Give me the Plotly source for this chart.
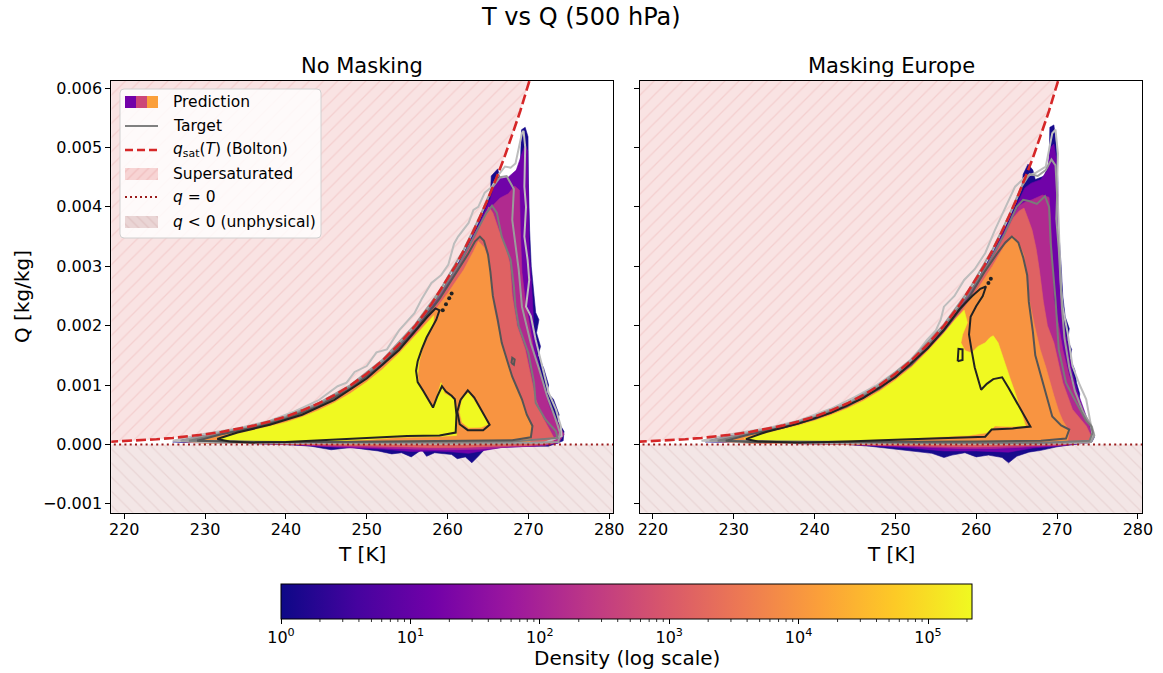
import math
import plotly.graph_objects as go

W, H = 1163, 673
FONT = "DejaVu Sans"

# ---------------------------------------------------------------- axes
T_RANGE = [218.4, 280.5]
Q_RANGE = [-0.00115, 0.00612]
T_TICKS = [220, 230, 240, 250, 260, 270, 280]
Q_TICKS = [-0.001, 0.0, 0.001, 0.002, 0.003, 0.004, 0.005, 0.006]
Q_TICK_TEXT = ["\u22120.001", "0.000", "0.001", "0.002", "0.003", "0.004", "0.005", "0.006"]

# saturation specific humidity at 500 hPa (Bolton), tabulated
QSAT_T = [218, 220, 222, 224, 226, 228, 230, 232, 234, 236, 238, 240, 242, 244, 246,
          248, 250, 252, 254, 256, 258, 260, 261, 262, 263, 264, 265, 266, 267, 268,
          269, 270, 270.5]
QSAT_Q = [0.0000431, 0.0000548, 0.0000692, 0.0000872, 0.0001092, 0.0001362, 0.0001691,
          0.0002092, 0.0002576, 0.0003160, 0.0003859, 0.0004697, 0.0005696, 0.0006883,
          0.0008287, 0.0009946, 0.0011899, 0.0014185, 0.0016862, 0.0019986, 0.0023611,
          0.0027815, 0.0030115, 0.0032679, 0.0035330, 0.0038293, 0.0041338, 0.0044753,
          0.0048244, 0.0052180, 0.0056161, 0.0060687, 0.0062899]

# ---------------------------------------------------------------- density
# log10 of the colour-bar maximum
CBAR_LOG_MAX = 5.34
CBAR_DECADES = [0, 1, 2, 3, 4, 5]
CBAR_TICK_TEXT = ["10<sup>0</sup>", "10<sup>1</sup>", "10<sup>2</sup>",
                  "10<sup>3</sup>", "10<sup>4</sup>", "10<sup>5</sup>"]

# prediction density regions (T [K], q [kg/kg]), lowest level first -- No Masking
NM_NAVY = [
    (226.0, 0.00004), (228.0, 0.00012), (232.0, 0.00019), (236.0, 0.00030), (240.0, 0.00045),
    (244.0, 0.00066), (248.0, 0.00096), (252.0, 0.00138), (256.0, 0.00196), (258.0, 0.00232),
    (260.0, 0.00274), (262.0, 0.00322), (264.0, 0.00378), (265.3, 0.00420), (265.4, 0.00452),
    (266.2, 0.00464), (266.6, 0.00442), (267.5, 0.00440), (268.3, 0.00456), (269.0, 0.00472),
    (269.15, 0.00530), (269.6, 0.00534), (269.95, 0.00518), (270.0, 0.00440), (270.15, 0.00360),
    (270.35, 0.00300), (270.7, 0.00250), (270.9, 0.00222), (271.3, 0.00210), (271.0, 0.00188),
    (271.5, 0.00165), (271.2, 0.00150), (271.9, 0.00128), (272.5, 0.00100), (272.3, 0.00088),
    (273.1, 0.00076), (273.8, 0.00050), (273.6, 0.00040), (274.4, 0.00022), (274.3, 0.00006),
    (272.5, -0.00003), (270.1, -0.00003), (266.7, -0.00005), (264.6, -0.00008), (263.8, -0.00020),
    (263.0, -0.00031), (262.2, -0.00021), (261.2, -0.00024), (260.5, -0.00017), (258.4, -0.00014),
    (257.4, -0.00020), (256.8, -0.00009), (255.5, -0.00021), (254.3, -0.00014), (253.1, -0.00016),
    (251.4, -0.00011), (249.6, -0.00008), (248.1, -0.00005), (245.6, -0.00009), (243.1, -0.00003),
    (241.0, -0.00001), (235.0, 0.00002), (228.0, 0.00003),
]
NM_PURPLE = [
    (226.5, 0.00005), (228.0, 0.00011), (232.0, 0.00018), (236.0, 0.00029), (240.0, 0.00044),
    (244.0, 0.00065), (248.0, 0.00095), (252.0, 0.00137), (256.0, 0.00194), (258.0, 0.00230),
    (260.0, 0.00271), (262.0, 0.00319), (264.0, 0.00374), (265.3, 0.00414), (265.9, 0.00440),
    (266.6, 0.00448), (267.5, 0.00450), (268.5, 0.00462), (269.2, 0.00490), (269.6, 0.00505),
    (269.9, 0.00494), (270.0, 0.00420), (270.1, 0.00330), (270.5, 0.00244), (270.7, 0.00188),
    (271.3, 0.00132), (272.5, 0.00076), (273.6, 0.00037), (273.9, 0.00013), (273.7, 0.00002),
    (270.8, -0.00003), (266.7, -0.00005), (264.2, -0.00011), (262.6, -0.00015), (260.0, -0.00012),
    (258.4, -0.00011), (255.5, -0.00012), (252.2, -0.00008), (246.5, -0.00005), (243.5, -0.00003),
    (240.0, 0.0), (230.0, 0.00003),
]
NM_MAGENTA = [
    (227.0, 0.00005), (228.0, 0.00011), (232.0, 0.00018), (236.0, 0.00029), (240.0, 0.00044),
    (244.0, 0.00065), (248.0, 0.00095), (252.0, 0.00136), (256.0, 0.00193), (258.0, 0.00228),
    (260.0, 0.00269), (262.0, 0.00316), (264.0, 0.00368), (264.9, 0.00392), (265.5, 0.00401),
    (266.5, 0.00415), (267.5, 0.00422), (268.3, 0.00435), (268.9, 0.00428), (269.0, 0.00360),
    (269.2, 0.00290), (269.6, 0.00244), (270.3, 0.00188), (270.8, 0.00148), (271.7, 0.00104),
    (272.7, 0.00059), (273.9, 0.00030), (274.4, 0.00017), (273.8, 0.00004), (272.0, -0.00002),
    (268.0, -0.00004), (264.0, -0.00008), (260.0, -0.00009), (256.0, -0.00008), (250.0, -0.00005),
    (245.0, -0.00003), (241.0, 0.0), (232.0, 0.00003),
]
NM_CORAL = [
    (227.0, 0.00005), (228.0, 0.00010), (232.0, 0.00017), (236.0, 0.00028), (240.0, 0.00043),
    (244.0, 0.00064), (248.0, 0.00094), (252.0, 0.00135), (256.0, 0.00191), (258.0, 0.00226),
    (260.0, 0.00266), (262.0, 0.00312), (263.5, 0.00352), (264.6, 0.00385), (265.1, 0.00400),
    (265.6, 0.00390), (266.3, 0.00362), (267.2, 0.00332), (267.7, 0.00305), (268.0, 0.00250),
    (268.6, 0.00200), (269.6, 0.00160), (270.3, 0.00112), (270.9, 0.00076), (271.8, 0.00045),
    (272.6, 0.00025), (273.2, 0.00010), (273.0, 0.00002), (270.0, -0.00002), (266.0, -0.00003),
    (262.0, -0.00005), (258.0, -0.00005), (254.0, -0.00004), (248.0, -0.00002), (242.0, 0.0),
    (235.0, 0.00002), (229.0, 0.00003),
]
NM_ORANGE = [
    (227.5, 0.00005), (228.0, 0.00009), (232.0, 0.00016), (236.0, 0.00027), (240.0, 0.00041),
    (244.0, 0.00062), (248.0, 0.00091), (252.0, 0.00131), (256.0, 0.00185), (258.0, 0.00218),
    (260.0, 0.00254), (262.0, 0.00294), (263.2, 0.00325), (263.8, 0.00342), (264.5, 0.00332),
    (265.1, 0.00311), (265.4, 0.00270), (265.7, 0.00232), (266.2, 0.00200), (266.7, 0.00171),
    (267.4, 0.00140), (268.0, 0.00114), (268.6, 0.00095), (269.2, 0.00076), (269.8, 0.00052),
    (270.4, 0.00030), (270.2, 0.00004), (268.0, 0.00001), (260.0, 0.0), (250.0, 0.0),
    (240.0, 0.00001), (230.0, 0.00002),
]
NM_ORANGE_SPOT = [(267.7, 0.00136), (268.1, 0.00128), (268.4, 0.00138), (268.1, 0.00150), (267.8, 0.00147)]
NM_YELLOW = [
    (231.5, 0.00010), (234.0, 0.00018), (236.0, 0.00024), (238.0, 0.00030), (240.0, 0.00037),
    (242.0, 0.00046), (244.0, 0.00057), (246.0, 0.00070), (248.0, 0.00086), (250.0, 0.00105),
    (252.0, 0.00127), (254.0, 0.00153), (256.0, 0.00183), (257.5, 0.00205), (258.3, 0.00217),
    (258.2, 0.00200), (257.5, 0.00182), (256.9, 0.00162), (256.5, 0.00140), (256.3, 0.00116),
    (256.6, 0.00096), (257.2, 0.00081), (257.8, 0.00068), (258.3, 0.00064), (258.8, 0.00085),
    (259.2, 0.00104), (259.6, 0.00086), (260.3, 0.00080), (260.9, 0.00076), (261.1, 0.00040),
    (261.1, 0.00015), (258.0, 0.00013), (254.0, 0.00012), (250.0, 0.00008), (244.0, 0.00005),
    (238.0, 0.00004), (234.0, 0.00005), (232.5, 0.00007),
]
NM_YELLOW_ISLAND = [
    (262.0, 0.00081), (262.6, 0.00087), (263.2, 0.00076), (264.2, 0.00054), (265.0, 0.00034),
    (264.2, 0.00029), (262.6, 0.00028), (261.8, 0.00037), (261.5, 0.00054), (261.7, 0.00071),
]

# target density contours, lowest level first -- No Masking
NM_T1 = [
    (226.0, 0.00006), (230.0, 0.00018), (234.0, 0.00027), (238.0, 0.00040), (241.0, 0.00055),
    (244.0, 0.00074), (246.4, 0.00098), (247.5, 0.00104), (248.5, 0.00122), (250.0, 0.00132),
    (251.2, 0.00155), (252.5, 0.00160), (254.0, 0.00192), (255.9, 0.00221), (256.8, 0.00245),
    (258.0, 0.00272), (259.2, 0.00285), (260.1, 0.00303), (260.8, 0.00338), (261.3, 0.00350),
    (262.6, 0.00373), (263.2, 0.00395), (263.8, 0.00400), (264.6, 0.00424), (265.5, 0.00434),
    (266.3, 0.00454), (267.1, 0.00468), (267.8, 0.00466), (268.4, 0.00473), (268.8, 0.00501),
    (269.2, 0.00524), (269.4, 0.00528), (269.6, 0.00501), (269.5, 0.00434), (269.7, 0.00400),
    (269.5, 0.00350), (269.9, 0.00311), (270.1, 0.00277), (269.7, 0.00232), (270.3, 0.00216),
    (270.9, 0.00176), (271.7, 0.00132), (272.5, 0.00087), (273.4, 0.00059), (274.0, 0.00031),
    (274.1, 0.00014), (272.0, 0.00003), (260.0, 0.00001), (245.0, 0.00002), (232.0, 0.00003),
]
NM_T2 = [
    (227.0, 0.00006), (232.0, 0.00020), (236.0, 0.00031), (240.0, 0.00047), (244.0, 0.00069),
    (248.0, 0.00100), (252.0, 0.00143), (256.0, 0.00202), (259.0, 0.00258), (262.0, 0.00328),
    (264.0, 0.00384), (265.5, 0.00432), (266.5, 0.00450), (267.3, 0.00452), (268.2, 0.00430),
    (268.0, 0.00378), (268.4, 0.00333), (268.8, 0.00294), (269.2, 0.00232), (269.8, 0.00200),
    (270.3, 0.00170), (271.3, 0.00128), (272.3, 0.00082), (273.3, 0.00045), (273.9, 0.00020),
    (273.7, 0.00004), (268.0, 0.00002), (255.0, 0.00002), (240.0, 0.00003),
]
NM_T3 = [
    (228.0, 0.00006), (232.0, 0.00018), (236.0, 0.00029), (240.0, 0.00045), (244.0, 0.00066),
    (248.0, 0.00097), (252.0, 0.00139), (256.0, 0.00197), (259.0, 0.00252), (261.5, 0.00305),
    (263.5, 0.00355), (264.8, 0.00390), (265.5, 0.00402), (266.1, 0.00390), (266.7, 0.00350),
    (267.8, 0.00311), (268.2, 0.00266), (268.4, 0.00232), (268.8, 0.00199), (270.0, 0.00154),
    (270.7, 0.00104), (270.9, 0.00070), (272.1, 0.00042), (273.4, 0.00022), (273.6, 0.00011),
    (268.0, 0.00005), (255.0, 0.00004), (240.0, 0.00004),
]
NM_T4 = [
    (229.0, 0.00006), (232.0, 0.00017), (236.0, 0.00028), (240.0, 0.00043), (244.0, 0.00064),
    (248.0, 0.00094), (252.0, 0.00135), (256.0, 0.00192), (259.0, 0.00245), (261.0, 0.00288),
    (262.5, 0.00320), (263.4, 0.00342), (264.0, 0.00350), (264.5, 0.00343), (265.0, 0.00320),
    (265.3, 0.00290), (265.6, 0.00250), (266.2, 0.00210), (266.7, 0.00171), (267.4, 0.00140),
    (268.0, 0.00114), (268.6, 0.00095), (269.2, 0.00076), (269.8, 0.00050), (270.5, 0.00031),
    (270.3, 0.00012), (268.0, 0.00007), (262.0, 0.00006), (255.0, 0.00005), (245.0, 0.00004),
    (235.0, 0.00004),
]
NM_T4_SPOT = [(267.9, 0.00137), (268.2, 0.00134), (268.3, 0.00143), (268.0, 0.00146)]
NM_T5 = [
    (231.5, 0.00009), (234.0, 0.00020), (238.0, 0.00033), (242.0, 0.00050), (246.0, 0.00075),
    (250.0, 0.00111), (254.0, 0.00159), (256.0, 0.00191), (257.5, 0.00215), (258.5, 0.00229),
    (259.0, 0.00226), (258.6, 0.00210), (258.0, 0.00195), (257.4, 0.00180), (256.8, 0.00160),
    (256.3, 0.00140), (256.1, 0.00124), (256.3, 0.00105), (257.0, 0.00090), (257.6, 0.00075),
    (258.2, 0.00062), (258.7, 0.00080), (259.3, 0.00098), (259.8, 0.00089), (260.5, 0.00082),
    (260.9, 0.00076), (261.1, 0.00050), (261.0, 0.00020), (259.0, 0.00015), (255.0, 0.00014),
    (250.0, 0.00011), (245.0, 0.00007), (240.0, 0.00004), (236.0, 0.00003), (233.0, 0.00005),
]
NM_T5_ISLAND = [
    (261.6, 0.00075), (262.5, 0.00091), (263.3, 0.00079), (264.3, 0.00056), (265.2, 0.00033),
    (264.4, 0.00024), (262.5, 0.00024), (261.5, 0.00034), (261.2, 0.00055),
]
# tiny isolated target cells along the saturation curve
NM_T5_SPECKS = [(259.4, 0.00226), (259.8, 0.00236), (260.2, 0.00246), (260.5, 0.00254)]

# prediction density regions -- Masking Europe
MK_NAVY = [
    (226.5, 0.00004), (228.0, 0.00012), (232.0, 0.00019), (236.0, 0.00030), (240.0, 0.00045),
    (244.0, 0.00066), (248.0, 0.00096), (252.0, 0.00138), (256.0, 0.00196), (258.0, 0.00232),
    (260.0, 0.00274), (262.0, 0.00322), (264.0, 0.00378), (265.6, 0.00428), (265.8, 0.00455),
    (266.4, 0.00472), (267.0, 0.00462), (267.3, 0.00446), (268.4, 0.00452), (269.0, 0.00472),
    (269.1, 0.00534), (269.6, 0.00538), (269.9, 0.00505), (270.1, 0.00440), (270.0, 0.00380),
    (270.3, 0.00340), (270.5, 0.00300), (270.7, 0.00250), (271.0, 0.00215), (271.5, 0.00195),
    (271.3, 0.00175), (271.8, 0.00160), (271.6, 0.00145), (272.2, 0.00125), (272.4, 0.00104),
    (272.8, 0.00085), (272.7, 0.00072), (273.1, 0.00059), (273.6, 0.00042), (274.2, 0.00026),
    (274.6, 0.00012), (274.3, 0.00004), (270.0, -0.00004), (268.0, -0.00010), (266.5, -0.00013),
    (265.0, -0.00020), (264.0, -0.00031), (263.2, -0.00022), (261.5, -0.00018), (260.0, -0.00021),
    (258.6, -0.00014), (257.0, -0.00018), (256.0, -0.00022), (254.5, -0.00015), (252.5, -0.00012),
    (250.5, -0.00008), (248.5, -0.00006), (246.8, -0.00003), (244.0, 0.0), (235.0, 0.00002),
    (228.0, 0.00003),
]
MK_PURPLE = [
    (227.0, 0.00005), (228.0, 0.00011), (232.0, 0.00018), (236.0, 0.00029), (240.0, 0.00044),
    (244.0, 0.00065), (248.0, 0.00095), (252.0, 0.00137), (256.0, 0.00194), (258.0, 0.00230),
    (260.0, 0.00271), (262.0, 0.00319), (264.0, 0.00374), (265.6, 0.00420), (266.0, 0.00432),
    (266.8, 0.00440), (268.0, 0.00446), (268.8, 0.00462), (269.2, 0.00500), (269.6, 0.00506),
    (269.9, 0.00482), (270.1, 0.00420), (270.2, 0.00330), (270.5, 0.00244), (270.9, 0.00199),
    (271.4, 0.00160), (271.9, 0.00120), (272.5, 0.00090), (273.2, 0.00064), (273.8, 0.00040),
    (274.2, 0.00020), (274.0, 0.00003), (270.0, -0.00003), (267.0, -0.00006), (264.0, -0.00013),
    (260.0, -0.00011), (256.0, -0.00011), (252.0, -0.00006), (248.0, -0.00003), (244.0, 0.0),
    (232.0, 0.00003),
]
MK_MAGENTA = [
    (227.5, 0.00005), (228.0, 0.00011), (232.0, 0.00018), (236.0, 0.00029), (240.0, 0.00044),
    (244.0, 0.00065), (248.0, 0.00095), (252.0, 0.00136), (256.0, 0.00193), (258.0, 0.00228),
    (260.0, 0.00269), (262.0, 0.00316), (264.0, 0.00369), (265.3, 0.00402), (266.0, 0.00408),
    (266.9, 0.00412), (268.2, 0.00420), (269.0, 0.00416), (269.2, 0.00378), (269.4, 0.00294),
    (269.6, 0.00244), (270.2, 0.00200), (270.7, 0.00160), (271.5, 0.00115), (272.8, 0.00070),
    (274.0, 0.00031), (274.3, 0.00012), (274.0, 0.00003), (270.0, -0.00002), (266.0, -0.00005),
    (262.0, -0.00007), (258.0, -0.00007), (254.0, -0.00005), (250.0, -0.00003), (245.0, 0.0),
    (232.0, 0.00003),
]
MK_CORAL = [
    (228.0, 0.00005), (230.0, 0.00013), (232.0, 0.00017), (236.0, 0.00028), (240.0, 0.00043),
    (244.0, 0.00064), (248.0, 0.00094), (252.0, 0.00135), (256.0, 0.00191), (258.0, 0.00226),
    (260.0, 0.00266), (262.0, 0.00312), (263.5, 0.00352), (264.6, 0.00382), (265.3, 0.00393),
    (265.9, 0.00398), (266.4, 0.00380), (266.9, 0.00361), (267.4, 0.00330), (267.8, 0.00294),
    (268.3, 0.00240), (268.8, 0.00200), (269.6, 0.00171), (270.7, 0.00104), (271.9, 0.00059),
    (273.6, 0.00031), (274.2, 0.00014), (274.0, 0.00004), (270.0, -0.00001), (265.0, -0.00003),
    (260.0, -0.00004), (255.0, -0.00003), (250.0, -0.00002), (245.0, 0.0), (235.0, 0.00002),
    (229.0, 0.00004),
]
MK_ORANGE = [
    (228.0, 0.00005), (230.0, 0.00012), (232.0, 0.00016), (236.0, 0.00027), (240.0, 0.00041),
    (244.0, 0.00062), (248.0, 0.00091), (252.0, 0.00131), (256.0, 0.00186), (258.0, 0.00220),
    (260.0, 0.00258), (262.0, 0.00300), (263.5, 0.00335), (264.6, 0.00350), (265.3, 0.00337),
    (265.9, 0.00318), (266.2, 0.00280), (266.6, 0.00240), (267.2, 0.00200), (267.9, 0.00160),
    (268.6, 0.00130), (269.2, 0.00100), (269.6, 0.00082), (270.2, 0.00056), (270.7, 0.00040),
    (271.5, 0.00022), (271.3, 0.00006), (268.0, 0.00002), (260.0, 0.0), (250.0, 0.0),
    (240.0, 0.00001), (232.0, 0.00002),
]
MK_YELLOW = [
    (231.3, 0.00010), (234.0, 0.00019), (236.0, 0.00025), (238.0, 0.00032), (240.0, 0.00040),
    (242.0, 0.00049), (244.0, 0.00060), (246.0, 0.00073), (248.0, 0.00089), (250.0, 0.00108),
    (252.0, 0.00130), (254.0, 0.00157), (256.0, 0.00187), (257.5, 0.00212), (258.5, 0.00226),
    (258.9, 0.00205), (258.3, 0.00185), (258.1, 0.00171), (258.6, 0.00158), (259.4, 0.00154),
    (260.2, 0.00165), (261.1, 0.00171), (261.7, 0.00180), (262.1, 0.00183), (262.7, 0.00171),
    (263.2, 0.00150), (263.6, 0.00132), (264.2, 0.00110), (264.8, 0.00087), (265.2, 0.00070),
    (265.6, 0.00053), (266.1, 0.00031), (264.0, 0.00030), (262.3, 0.00031), (261.5, 0.00020),
    (259.0, 0.00015), (257.3, 0.00014), (252.0, 0.00010), (246.0, 0.00007), (240.0, 0.00005),
    (235.0, 0.00005), (232.5, 0.00007),
]

# target density contours -- Masking Europe
MK_T1 = [
    (226.0, 0.00006), (230.0, 0.00018), (234.0, 0.00027), (238.0, 0.00040), (242.0, 0.00060),
    (245.0, 0.00080), (247.7, 0.00100), (250.0, 0.00122), (251.9, 0.00143), (253.0, 0.00160),
    (253.9, 0.00176), (255.0, 0.00192), (255.6, 0.00210), (256.0, 0.00232), (257.3, 0.00250),
    (258.5, 0.00277), (259.8, 0.00295), (261.1, 0.00322), (262.3, 0.00361), (263.6, 0.00400),
    (264.8, 0.00434), (266.1, 0.00451), (267.3, 0.00457), (268.6, 0.00468), (269.0, 0.00496),
    (269.4, 0.00524), (269.8, 0.00530), (270.1, 0.00490), (270.0, 0.00440), (270.1, 0.00406),
    (270.3, 0.00322), (270.5, 0.00260), (270.7, 0.00230), (271.3, 0.00188), (271.9, 0.00132),
    (272.8, 0.00100), (273.6, 0.00076), (274.0, 0.00050), (274.2, 0.00031), (274.4, 0.00015),
    (274.0, 0.00003), (268.0, 0.00001), (255.0, 0.00001), (240.0, 0.00002),
]
MK_T2 = [
    (227.0, 0.00006), (232.0, 0.00020), (236.0, 0.00031), (240.0, 0.00047), (244.0, 0.00069),
    (248.0, 0.00100), (252.0, 0.00143), (256.0, 0.00202), (259.0, 0.00258), (262.0, 0.00328),
    (264.0, 0.00384), (265.6, 0.00434), (266.6, 0.00455), (267.6, 0.00452), (268.6, 0.00462),
    (269.3, 0.00480), (269.8, 0.00470), (270.0, 0.00420), (269.9, 0.00380), (270.2, 0.00330),
    (270.4, 0.00280), (270.6, 0.00230), (270.9, 0.00180), (271.5, 0.00130), (272.2, 0.00090),
    (273.2, 0.00055), (274.3, 0.00030), (274.6, 0.00015), (274.2, 0.00004), (268.0, 0.00002),
    (255.0, 0.00002), (240.0, 0.00003),
]
MK_T3 = [
    (228.0, 0.00006), (232.0, 0.00018), (236.0, 0.00029), (240.0, 0.00045), (244.0, 0.00066),
    (248.0, 0.00097), (252.0, 0.00139), (256.0, 0.00197), (259.0, 0.00252), (261.5, 0.00305),
    (263.5, 0.00355), (265.0, 0.00400), (265.8, 0.00412), (266.5, 0.00410), (267.5, 0.00405),
    (268.5, 0.00418), (269.0, 0.00400), (269.2, 0.00340), (269.5, 0.00290), (269.8, 0.00244),
    (270.2, 0.00160), (271.1, 0.00104), (272.0, 0.00080), (272.8, 0.00059), (273.6, 0.00040),
    (274.2, 0.00031), (274.4, 0.00020), (274.0, 0.00006), (268.0, 0.00003), (255.0, 0.00003),
    (240.0, 0.00004),
]
MK_T4 = [
    (229.0, 0.00006), (232.0, 0.00017), (236.0, 0.00028), (240.0, 0.00043), (244.0, 0.00064),
    (248.0, 0.00094), (252.0, 0.00135), (256.0, 0.00192), (259.0, 0.00245), (261.0, 0.00290),
    (262.5, 0.00320), (263.6, 0.00340), (264.4, 0.00350), (265.2, 0.00340), (265.8, 0.00315),
    (266.3, 0.00285), (266.5, 0.00240), (267.0, 0.00190), (267.3, 0.00150), (268.2, 0.00104),
    (268.8, 0.00075), (269.4, 0.00047), (270.5, 0.00032), (271.5, 0.00025), (271.1, 0.00010),
    (268.0, 0.00006), (260.0, 0.00005), (250.0, 0.00004), (240.0, 0.00004), (232.0, 0.00004),
]
MK_T5 = [
    (231.5, 0.00009), (234.0, 0.00021), (238.0, 0.00035), (242.0, 0.00053), (246.0, 0.00078),
    (250.0, 0.00113), (254.0, 0.00162), (256.0, 0.00193), (258.0, 0.00229), (259.5, 0.00250),
    (260.5, 0.00262), (261.2, 0.00266), (260.8, 0.00250), (260.0, 0.00233), (259.3, 0.00215),
    (259.1, 0.00185), (259.4, 0.00160), (259.8, 0.00130), (260.6, 0.00092), (261.3, 0.00102),
    (262.1, 0.00110), (263.2, 0.00113), (264.0, 0.00095), (264.8, 0.00076), (265.8, 0.00050),
    (266.7, 0.00030), (264.5, 0.00027), (261.9, 0.00025), (261.1, 0.00013), (256.0, 0.00011),
    (250.0, 0.00008), (244.0, 0.00005), (238.0, 0.00003), (233.0, 0.00005),
]
MK_T5_LOOP = [(257.7, 0.00140), (258.3, 0.00142), (258.3, 0.00160), (257.8, 0.00161)]
MK_T5_SPECKS = [(261.5, 0.00272), (261.8, 0.00279)]

# ---------------------------------------------------------------- styles
LEVEL_COLORS = ["#170a8c", "#7003a8", "#b02a8f", "#df6263", "#f89441", "#f0f921"]
TARGET_COLORS = ["#bdbdbd", "#9b9b9b", "#7a7a7a", "#555555", "#222222"]
SUPERSAT_BG, SUPERSAT_FG = "#f9e3e3", "#f0bcbc"
NEG_BG, NEG_FG = "#f3e6e6", "#dfc4c4"
QSAT_COLOR = "#d62728"
ZERO_COLOR = "#9b1c1c"

PANEL_TOP, PANEL_BOTTOM = 81.0, 512.7
PANELS = [
    dict(title="No Masking", x0=111.3, x1=613.3, xa="x", ya="y",
         pred=[[NM_NAVY], [NM_PURPLE], [NM_MAGENTA], [NM_CORAL, NM_ORANGE_SPOT], [NM_ORANGE],
               [NM_YELLOW, NM_YELLOW_ISLAND]],
         target=[[NM_T1], [NM_T2], [NM_T3], [NM_T4, NM_T4_SPOT], [NM_T5, NM_T5_ISLAND]],
         specks=NM_T5_SPECKS),
    dict(title="Masking Europe", x0=640.0, x1=1142.0, xa="x2", ya="y2",
         pred=[[MK_NAVY], [MK_PURPLE], [MK_MAGENTA], [MK_CORAL], [MK_ORANGE], [MK_YELLOW]],
         target=[[MK_T1], [MK_T2], [MK_T3], [MK_T4], [MK_T5, MK_T5_LOOP]],
         specks=MK_T5_SPECKS),
]

fig = go.Figure()


def closed(pts):
    xs = [p[0] for p in pts] + [pts[0][0]]
    ys = [p[1] for p in pts] + [pts[0][1]]
    return xs, ys


T_LO, T_HI = T_RANGE[0] - 1, T_RANGE[1] + 1
Q_LO, Q_HI = Q_RANGE[0] - 0.0002, Q_RANGE[1] + 0.0004

for p in PANELS:
    xa, ya = p["xa"], p["ya"]
    # supersaturated region above the saturation curve
    fig.add_trace(go.Scatter(
        x=[T_LO] + QSAT_T + [QSAT_T[-1], T_LO],
        y=[QSAT_Q[0]] + QSAT_Q + [Q_HI, Q_HI],
        mode="lines", line=dict(width=0), fill="toself", fillcolor=SUPERSAT_BG,
        fillpattern=dict(shape="/", size=10, solidity=0.13, fgcolor=SUPERSAT_FG,
                         bgcolor=SUPERSAT_BG),
        xaxis=xa, yaxis=ya, hoverinfo="skip", showlegend=False))
    # unphysical negative humidity
    fig.add_trace(go.Scatter(
        x=[T_LO, T_HI, T_HI, T_LO, T_LO], y=[0, 0, Q_LO, Q_LO, 0],
        mode="lines", line=dict(width=0), fill="toself", fillcolor=NEG_BG,
        fillpattern=dict(shape="\\", size=10, solidity=0.13, fgcolor=NEG_FG, bgcolor=NEG_BG),
        xaxis=xa, yaxis=ya, hoverinfo="skip", showlegend=False))
    # prediction density (filled levels)
    for color, polys in zip(LEVEL_COLORS, p["pred"]):
        for poly in polys:
            xs, ys = closed(poly)
            fig.add_trace(go.Scatter(
                x=xs, y=ys, mode="lines", line=dict(color=color, width=0.6),
                fill="toself", fillcolor=color, xaxis=xa, yaxis=ya,
                hoverinfo="skip", showlegend=False))
    # target density (contour lines)
    for color, polys in zip(TARGET_COLORS, p["target"]):
        for poly in polys:
            xs, ys = closed(poly)
            fig.add_trace(go.Scatter(
                x=xs, y=ys, mode="lines", line=dict(color=color, width=2),
                xaxis=xa, yaxis=ya, hoverinfo="skip", showlegend=False))
    fig.add_trace(go.Scatter(
        x=[s[0] for s in p["specks"]], y=[s[1] for s in p["specks"]], mode="markers",
        marker=dict(color=TARGET_COLORS[-1], size=4), xaxis=xa, yaxis=ya,
        hoverinfo="skip", showlegend=False))
    # saturation curve and q = 0
    fig.add_trace(go.Scatter(
        x=QSAT_T, y=QSAT_Q, mode="lines",
        line=dict(color=QSAT_COLOR, width=2.6, dash="10px,4px"),
        xaxis=xa, yaxis=ya, hoverinfo="skip", showlegend=False))
    fig.add_trace(go.Scatter(
        x=[T_LO, T_HI], y=[0, 0], mode="lines",
        line=dict(color=ZERO_COLOR, width=2, dash="2px,3.3px"),
        xaxis=xa, yaxis=ya, hoverinfo="skip", showlegend=False))

# ---------------------------------------------------------------- legend (pixel overlay)
LEG_X0, LEG_X1, LEG_Y0, LEG_Y1 = 120, 321, 89, 238
SW_X0, SW_X1, TXT_X = 125, 158, 171
ROWS = [102, 126, 150, 174, 197, 222]
PRED_SWATCH = ["#7201a8", "#cc4778", "#fb9f3a"]

r = 4
fig.add_shape(
    type="path", xref="x4", yref="y4", layer="between",
    path=(f"M {LEG_X0 + r},{LEG_Y0} L {LEG_X1 - r},{LEG_Y0} Q {LEG_X1},{LEG_Y0} {LEG_X1},{LEG_Y0 + r} "
          f"L {LEG_X1},{LEG_Y1 - r} Q {LEG_X1},{LEG_Y1} {LEG_X1 - r},{LEG_Y1} "
          f"L {LEG_X0 + r},{LEG_Y1} Q {LEG_X0},{LEG_Y1} {LEG_X0},{LEG_Y1 - r} "
          f"L {LEG_X0},{LEG_Y0 + r} Q {LEG_X0},{LEG_Y0} {LEG_X0 + r},{LEG_Y0} Z"),
    fillcolor="rgba(255,255,255,0.82)", line=dict(color="#d0d0d0", width=1))

sw = (SW_X1 - SW_X0) / 3
for i, c in enumerate(PRED_SWATCH):
    fig.add_trace(go.Scatter(
        x=[SW_X0 + i * sw, SW_X0 + (i + 1) * sw, SW_X0 + (i + 1) * sw, SW_X0 + i * sw, SW_X0 + i * sw],
        y=[ROWS[0] - 6, ROWS[0] - 6, ROWS[0] + 6, ROWS[0] + 6, ROWS[0] - 6],
        mode="lines", line=dict(width=0), fill="toself", fillcolor=c,
        xaxis="x4", yaxis="y4", hoverinfo="skip", showlegend=False))
fig.add_trace(go.Scatter(x=[SW_X0, SW_X1], y=[ROWS[1], ROWS[1]], mode="lines",
                         line=dict(color="#808080", width=2), xaxis="x4", yaxis="y4",
                         hoverinfo="skip", showlegend=False))
fig.add_trace(go.Scatter(x=[SW_X0, SW_X1], y=[ROWS[2], ROWS[2]], mode="lines",
                         line=dict(color=QSAT_COLOR, width=2.6, dash="8px,4px"),
                         xaxis="x4", yaxis="y4", hoverinfo="skip", showlegend=False))
for row, shape, bg, fg in [(ROWS[3], "/", "#f7d4d4", "#eaaaaa"), (ROWS[5], "\\", "#ead5d5", "#d6b2b2")]:
    fig.add_trace(go.Scatter(
        x=[SW_X0, SW_X1, SW_X1, SW_X0, SW_X0], y=[row - 6, row - 6, row + 6, row + 6, row - 6],
        mode="lines", line=dict(width=0), fill="toself", fillcolor=bg,
        fillpattern=dict(shape=shape, size=7, solidity=0.18, fgcolor=fg, bgcolor=bg),
        xaxis="x4", yaxis="y4", hoverinfo="skip", showlegend=False))
fig.add_trace(go.Scatter(x=[SW_X0, SW_X1], y=[ROWS[4], ROWS[4]], mode="lines",
                         line=dict(color=ZERO_COLOR, width=2, dash="2px,3px"),
                         xaxis="x4", yaxis="y4", hoverinfo="skip", showlegend=False))

LEGEND_TEXT = ["Prediction", "Target", "<i>q</i><sub>sat</sub>(<i>T</i>) (Bolton)",
               "Supersaturated", "<i>q</i> = 0", "<i>q</i> &lt; 0 (unphysical)"]
annotations = []
for row, txt in zip(ROWS, LEGEND_TEXT):
    annotations.append(dict(x=TXT_X / W, y=1 - row / H, xref="paper", yref="paper", text=txt,
                            showarrow=False, xanchor="left", yanchor="middle",
                            font=dict(family=FONT, size=15.5, color="black")))

# ---------------------------------------------------------------- colour bar
CB_X0, CB_X1, CB_Y0, CB_Y1 = 281, 972, 584, 619
fig.add_trace(go.Scatter(
    x=[None], y=[None], mode="markers",
    marker=dict(color=[0], colorscale="Plasma", cmin=0, cmax=CBAR_LOG_MAX, showscale=True,
                colorbar=dict(orientation="h", x=(CB_X0 + CB_X1) / 2 / W, xanchor="center",
                              y=1 - CB_Y0 / H, yanchor="top", len=CB_X1 - CB_X0, lenmode="pixels",
                              thickness=CB_Y1 - CB_Y0, thicknessmode="pixels", xpad=0, ypad=0,
                              outlinewidth=1, outlinecolor="black",
                              tickmode="array", tickvals=CBAR_DECADES, ticktext=CBAR_TICK_TEXT,
                              ticks="outside", ticklen=5, tickwidth=1, tickcolor="black",
                              tickfont=dict(family=FONT, size=16, color="black"))),
    xaxis="x4", yaxis="y4", hoverinfo="skip", showlegend=False))

# minor ticks of the log colour bar
px_per_decade = (CB_X1 - CB_X0) / CBAR_LOG_MAX
for d in range(6):
    for k in range(2, 10):
        lv = d + math.log10(k)
        if lv > CBAR_LOG_MAX:
            break
        xm = CB_X0 + lv * px_per_decade
        fig.add_shape(type="line", xref="x4", yref="y4", x0=xm, x1=xm, y0=CB_Y1, y1=CB_Y1 + 3,
                      line=dict(color="black", width=0.8))

# ---------------------------------------------------------------- texts
def text(x, y, s, size, angle=0):
    annotations.append(dict(x=x / W, y=1 - y / H, xref="paper", yref="paper", text=s,
                            showarrow=False, xanchor="center", yanchor="middle", textangle=angle,
                            font=dict(family=FONT, size=size, color="black")))


text(581, 17, "T vs Q (500 hPa)", 24)
for p in PANELS:
    cx = (p["x0"] + p["x1"]) / 2
    text(cx, 66, p["title"], 21)
    text(cx, 554, "T [K]", 20)
text(22, 297, "Q [kg/kg]", 20, angle=-90)
text((CB_X0 + CB_X1) / 2, 658, "Density (log scale)", 20)

# ---------------------------------------------------------------- axes layout
tickfont = dict(family=FONT, size=16, color="black")
ydom = [1 - PANEL_BOTTOM / H, 1 - PANEL_TOP / H]
layout_axes = {}
for i, p in enumerate(PANELS):
    sfx = "" if i == 0 else str(i + 1)
    layout_axes["xaxis" + sfx] = dict(
        domain=[p["x0"] / W, p["x1"] / W], range=T_RANGE, tickmode="array", tickvals=T_TICKS,
        ticks="outside", ticklen=5, tickwidth=1, tickcolor="black", showline=True,
        linecolor="black", linewidth=1, mirror=True, showgrid=False, zeroline=False,
        tickfont=tickfont, ticklabelstandoff=-3, anchor="y" + sfx, fixedrange=True)
    layout_axes["yaxis" + sfx] = dict(
        domain=ydom, range=Q_RANGE, tickmode="array", tickvals=Q_TICKS, ticktext=Q_TICK_TEXT,
        ticks="outside", ticklen=5, tickwidth=1, tickcolor="black", showline=True,
        linecolor="black", linewidth=1, mirror=True, showgrid=False, zeroline=False,
        tickfont=tickfont, showticklabels=(i == 0), anchor="x" + sfx, fixedrange=True)
layout_axes["xaxis4"] = dict(domain=[0, 1], range=[0, W], visible=False, anchor="y4", fixedrange=True)
layout_axes["yaxis4"] = dict(domain=[0, 1], range=[H, 0], visible=False, anchor="x4", fixedrange=True)

fig.update_layout(
    width=W, height=H, margin=dict(l=0, r=0, t=0, b=0, autoexpand=False),
    paper_bgcolor="white", plot_bgcolor="rgba(0,0,0,0)",
    font=dict(family=FONT, color="black"), showlegend=False,
    annotations=annotations, **layout_axes)

fig.write_html("out.html")
